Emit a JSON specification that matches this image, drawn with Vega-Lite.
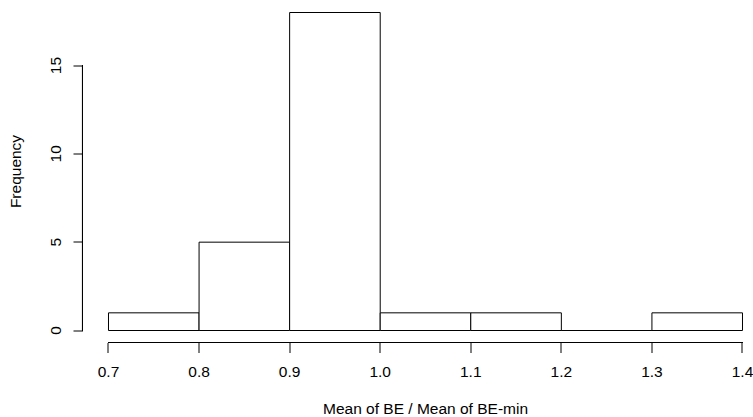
{
  "$schema": "https://vega.github.io/schema/vega-lite/v6.json",
  "width": 670,
  "height": 343,
  "autosize": {"type": "none"},
  "padding": {"left": 83, "top": 0, "right": 0, "bottom": 74},
  "background": "white",
  "config": {
    "view": {"stroke": null},
    "font": "Liberation Sans",
    "axis": {
      "grid": false,
      "domain": false,
      "translate": 0,
      "tickColor": "black",
      "tickWidth": 1,
      "labelColor": "black",
      "titleColor": "black",
      "titleFontWeight": "normal",
      "labelFontSize": 15.5,
      "titleFontSize": 15.5
    }
  },
  "data": {
    "values": [
      {"bin_start": 0.7, "bin_end": 0.8, "count": 1},
      {"bin_start": 0.8, "bin_end": 0.9, "count": 5},
      {"bin_start": 0.9, "bin_end": 1.0, "count": 18},
      {"bin_start": 1.0, "bin_end": 1.1, "count": 1},
      {"bin_start": 1.1, "bin_end": 1.2, "count": 1},
      {"bin_start": 1.2, "bin_end": 1.3, "count": 0},
      {"bin_start": 1.3, "bin_end": 1.4, "count": 1}
    ]
  },
  "layer": [
    {
      "mark": {"type": "bar", "fill": "white", "stroke": "black", "strokeWidth": 1},
      "encoding": {
        "x": {
          "field": "bin_start",
          "type": "quantitative",
          "scale": {"domain": [0.67185, 1.4116], "nice": false, "zero": false},
          "axis": {
            "values": [0.7, 0.8, 0.9, 1.0, 1.1, 1.2, 1.3, 1.4],
            "format": ".1f",
            "tickSize": 10,
            "labelPadding": 12,
            "title": "Mean of BE / Mean of BE-min",
            "titleX": 342.5,
            "titleY": 70.5,
            "titleAlign": "center",
            "titleBaseline": "alphabetic"
          }
        },
        "x2": {"field": "bin_end"},
        "y": {
          "field": "count",
          "type": "quantitative",
          "scale": {"domain": [-0.7075, 18.708], "nice": false, "zero": false},
          "axis": {
            "values": [0, 5, 10, 15],
            "tickSize": 9.5,
            "labelAngle": -90,
            "labelAlign": "center",
            "labelBaseline": "alphabetic",
            "labelPadding": 12.5,
            "title": "Frequency",
            "titleAngle": -90,
            "titleX": -62,
            "titleY": 171.5,
            "titleAlign": "center",
            "titleBaseline": "alphabetic"
          }
        },
        "y2": {"datum": 0}
      }
    },
    {
      "mark": {"type": "rule", "color": "black", "strokeWidth": 1},
      "encoding": {
        "x": {"datum": 0.7},
        "x2": {"datum": 1.4},
        "y": {"datum": -0.68}
      }
    },
    {
      "mark": {"type": "rule", "color": "black", "strokeWidth": 1},
      "encoding": {
        "x": {"datum": 0.67129},
        "y": {"datum": 0},
        "y2": {"datum": 15}
      }
    }
  ]
}
